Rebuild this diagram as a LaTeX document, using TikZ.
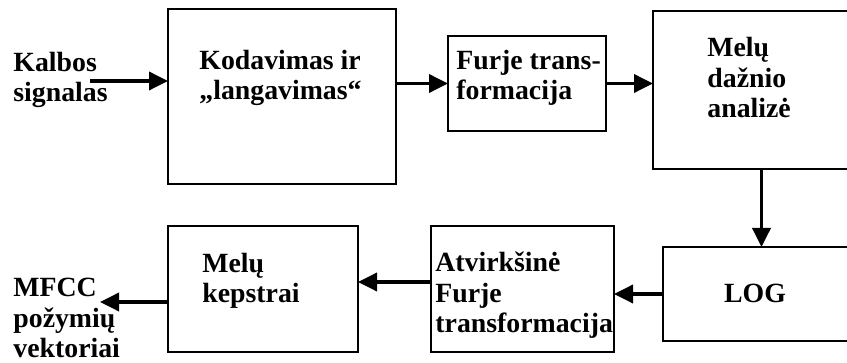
\documentclass[tikz,border=0pt]{standalone}
\usepackage{fontspec}
\setmainfont{Liberation Serif}
\usetikzlibrary{arrows.meta}

\tikzset{
  box/.style={draw, line width=1.3pt, inner sep=0pt, outer sep=0pt},
  lbl/.style={anchor=base west, align=left, inner sep=0pt,
              font=\fontsize{13.9}{15.4}\selectfont\bfseries},
  arr/.style={line width=1.8pt, -{Triangle[length=9.5pt,width=9pt]}}
}

\begin{document}
\begin{tikzpicture}[x=0.5pt, y=-0.5pt]
\clip (0,0) rectangle (847,363);

% draw the blocks
\foreach \name/\x/\y/\w/\h in {kod/282/96.5/114/87.5, furje/527/83.5/79/47.5,
    mel/756.5/90/103.5/79, log/761.5/294/98.5/47,
    atv/522.5/289/91.5/63, kep/263/289/95/63}
    \node (\name) [box, minimum width=\w pt, minimum height=\h pt] at (\x,\y) {};

% texts (placed at the baseline of their last line)
\node (tin)   [lbl] at (13,102)  {Kalbos\\signalas};
\node (tkod)  [lbl] at (199,100) {Kodavimas ir\\„langavimas“};
\node (tfur)  [lbl] at (456,100) {Furje trans-\\formacija};
\node (tmel)  [lbl] at (707,118) {Melų\\dažnio\\analizė};
\node (tlog)  [lbl, anchor=base] at (755,303) {LOG};
\node (tatv)  [lbl] at (435,333) {Atvirkšinė\\Furje\\transformacija};
\node (tkep)  [lbl] at (202,303) {Melų\\kepstrai};
\node (tout)  [lbl] at (13,358)  {MFCC\\požymių\\vektoriai};

% connect the blocks
\coordinate (in) at (90,81);
\coordinate (out) at (100,302);
\draw[arr] (in) -- (in -| kod.west);
\draw[arr] (kod.east |- furje.west) -- (furje.west);
\draw[arr] (furje.east) -- (furje.east -| mel.west);
\draw[arr] (log.north |- mel.south) -- (log.north);
\draw[arr] (log.west) -- (log.west -| atv.east);
\draw[arr] ([yshift=3.5pt]atv.west) -- ([yshift=3.5pt]atv.west -| kep.east);
\draw[arr] ([yshift=-6.5pt]kep.west) -- (out);

\end{tikzpicture}
\end{document}
